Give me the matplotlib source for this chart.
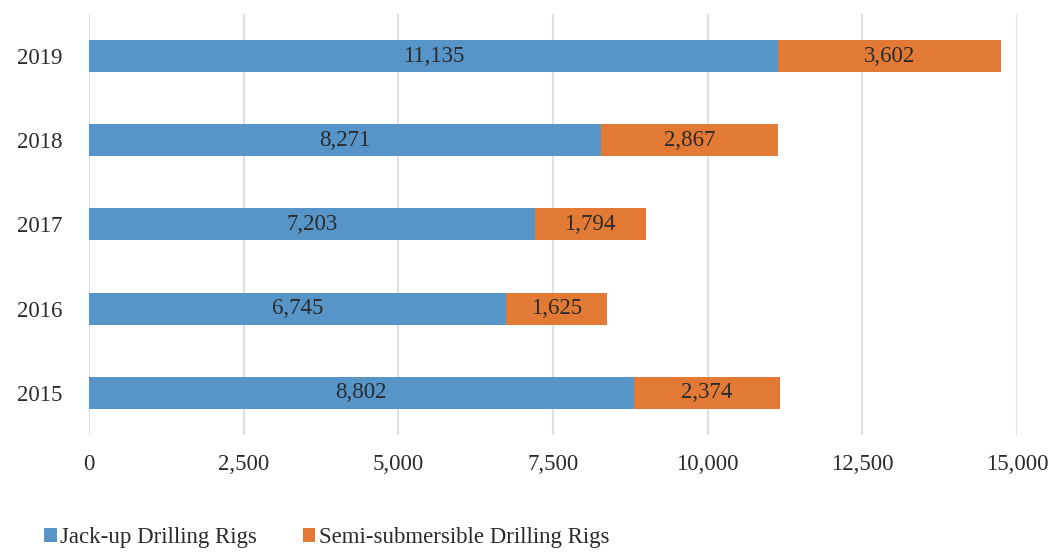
import matplotlib
matplotlib.use("Agg")
import matplotlib.pyplot as plt
import numpy as np

years = ["2015", "2016", "2017", "2018", "2019"]
jack_up = [8802, 6745, 7203, 8271, 11135]
semi_sub = [2374, 1625, 1794, 2867, 3602]
x_ticks = [0, 2500, 5000, 7500, 10000, 12500, 15000]

blue = "#5794C8"
orange = "#E27934"
text_color = "#2B2B2B"
plt.rcParams["font.family"] = ["Liberation Serif", "DejaVu Serif"]

fig = plt.figure(figsize=(10.49, 5.57), dpi=100)
ax = fig.add_axes([0.0848, 0.219, 0.8847, 0.756])

y = np.arange(len(years))
bh = 0.38
b1 = ax.barh(y, jack_up, height=bh, color=blue, label="Jack-up Drilling Rigs", zorder=3)
b2 = ax.barh(y, semi_sub, left=jack_up, height=bh, color=orange,
             label="Semi-submersible Drilling Rigs", zorder=3)

for bars in (b1, b2):
    ax.bar_label(bars, labels=[f"{v:,}" for v in bars.datavalues], label_type="center",
                 fontsize=16.5, color=text_color)

ax.set_xlim(0, 15000)
ax.set_ylim(-0.5, 4.5)
ax.set_xticks(x_ticks)
ax.set_xticklabels([f"{v:,}" for v in x_ticks])
ax.set_yticks(y)
ax.set_yticklabels(years)
ax.tick_params(length=0, labelsize=16.5, colors=text_color)
ax.tick_params(axis="x", pad=14)
ax.tick_params(axis="y", pad=19)
ax.grid(axis="x", color="#E0E0E0", linewidth=1.5, zorder=0)
for s in ax.spines.values():
    s.set_visible(False)

ax.legend(loc="lower left", bbox_to_anchor=(0.031, -0.005), bbox_transform=fig.transFigure,
          ncol=2, frameon=False, fontsize=16.5, handlelength=0.55, handleheight=0.55,
          handletextpad=0.15, columnspacing=2.0, labelcolor=text_color, borderpad=0)

fig.savefig("out.png", dpi=100)
